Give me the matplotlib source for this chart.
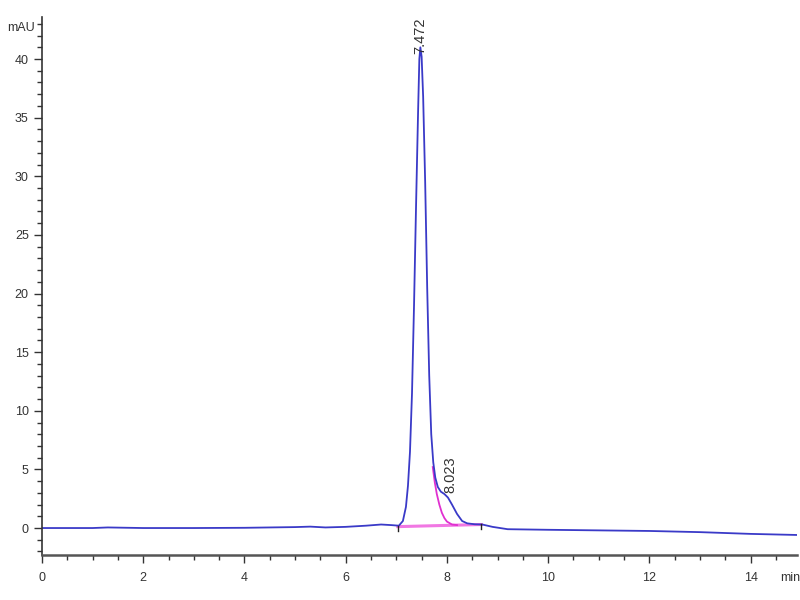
import matplotlib.pyplot as plt
from matplotlib.ticker import MultipleLocator

# Signal trace (time in min, signal in mAU)
time_min = [0.0, 1.0, 1.3, 2.0, 3.0, 4.0, 5.0, 5.3, 5.6, 6.0, 6.4, 6.7, 6.9,
            7.05, 7.13, 7.19, 7.23, 7.27, 7.31, 7.35, 7.39, 7.43, 7.455, 7.475,
            7.5, 7.53, 7.57, 7.61, 7.65, 7.69, 7.73, 7.77, 7.82, 7.88, 7.95,
            8.02, 8.1, 8.2, 8.3, 8.4, 8.55, 8.7, 8.9, 9.2, 10.0, 11.0, 12.0,
            13.0, 14.0, 15.0]
signal_mau = [0.0, 0.0, 0.05, 0.0, 0.0, 0.02, 0.08, 0.12, 0.05, 0.1, 0.2, 0.3,
              0.25, 0.2, 0.6, 1.8, 3.6, 6.5, 11.5, 19.0, 27.5, 35.5, 40.0, 41.0,
              40.2, 36.8, 29.5, 20.5, 13.0, 8.0, 5.6, 4.3, 3.5, 3.1, 2.9,
              2.6, 2.0, 1.2, 0.6, 0.4, 0.32, 0.3, 0.1, -0.1, -0.15, -0.2,
              -0.25, -0.35, -0.5, -0.6]

# Fitted tail of the main peak and integration baseline (magenta)
fit_time = [7.72, 7.76, 7.8, 7.85, 7.9, 7.95, 8.0, 8.1, 8.2]
fit_mau = [5.2, 3.9, 2.9, 2.0, 1.3, 0.85, 0.55, 0.3, 0.25]
base_time = [7.03, 8.68]
base_mau = [0.12, 0.3]

peak_times = [7.472, 8.023]
peak_heights = [41.0, 2.7]
peak_labels = ["7.472", "8.023"]

plt.rcParams['font.family'] = ['Liberation Sans Narrow', 'Liberation Sans', 'DejaVu Sans']

fig = plt.figure(figsize=(8, 6), dpi=100)
ax = fig.add_axes([0.0525, 0.075, 0.944, 0.897])

ax.plot(base_time, base_mau, color='#ee55dd', linewidth=2.2, alpha=0.8)
ax.plot(fit_time, fit_mau, color='#e030d0', linewidth=1.3)
ax.plot(time_min, signal_mau, color='#3a3ac8', linewidth=1.3)

# integration markers
for t, v in zip(base_time, base_mau):
    ax.plot([t, t], [v - 0.35, v + 0.05], color='#222222', linewidth=1)

ax.text(peak_times[0], peak_heights[0] - 0.6, peak_labels[0], rotation=90,
        ha='center', va='bottom', fontsize=10.5, color='#333333')
ax.text(peak_times[1] + 0.04, peak_heights[1] + 0.3, peak_labels[1], rotation=90,
        ha='center', va='bottom', fontsize=10.5, color='#333333')

ax.set_xlim(0, 14.92)
ax.set_ylim(-2.3, 43.6)
ax.xaxis.set_major_locator(MultipleLocator(2))
ax.xaxis.set_minor_locator(MultipleLocator(0.5))
ax.yaxis.set_major_locator(MultipleLocator(5))
ax.yaxis.set_minor_locator(MultipleLocator(1))

for side in ['top', 'right']:
    ax.spines[side].set_visible(False)
ax.spines['bottom'].set_linewidth(1.8)
ax.spines['bottom'].set_color('#555555')
ax.spines['left'].set_linewidth(1.2)
ax.spines['left'].set_color('#333333')

ax.tick_params(axis='both', which='major', length=6, width=1, colors='#333333',
               labelsize=9)
ax.tick_params(axis='both', which='minor', length=3.5, width=1, colors='#333333')
ax.tick_params(axis='x', pad=6)

fig.text(7 / 800, 1 - 28 / 600, "mAU", fontsize=9, color='#333333',
         ha='left', va='center')
fig.text(800 / 800, 1 - 578 / 600, "min", fontsize=9, color='#333333',
         ha='right', va='center')

plt.savefig('out.png', dpi=100)
